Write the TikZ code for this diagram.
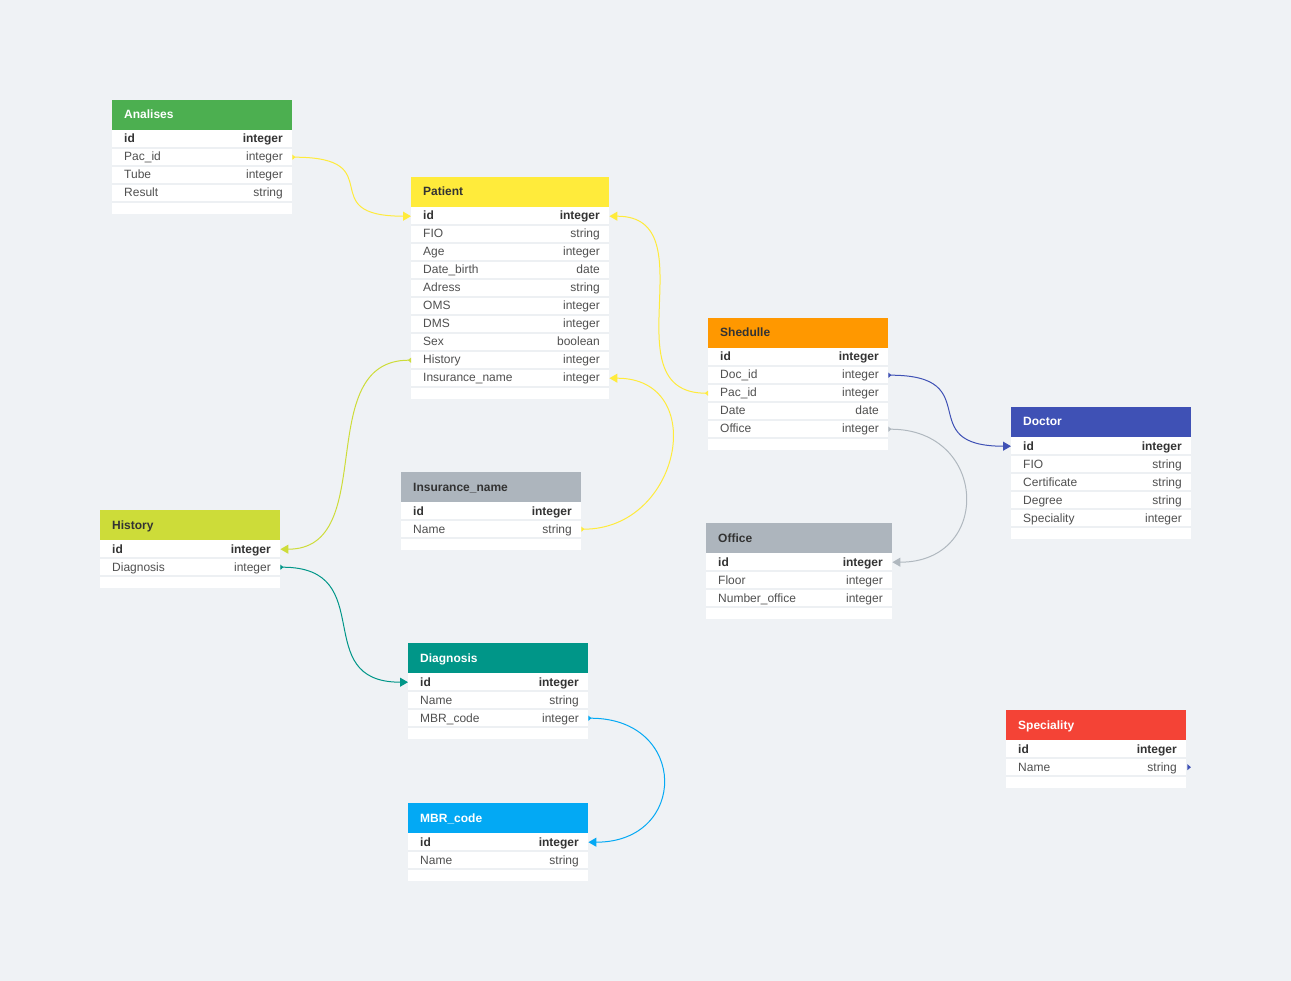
\documentclass[tikz,border=0pt]{standalone}
\usepackage{fontspec}
\setmainfont{Liberation Sans}
\usetikzlibrary{arrows.meta}
\definecolor{bgc}{HTML}{EFF2F5}
\definecolor{sepc}{HTML}{EDF0F3}
\definecolor{cgreen}{HTML}{4CAF50}
\definecolor{cyellow}{HTML}{FFEB3B}
\definecolor{corange}{HTML}{FF9800}
\definecolor{cindigo}{HTML}{3F51B5}
\definecolor{clime}{HTML}{CDDC39}
\definecolor{cgray}{HTML}{ADB5BD}
\definecolor{cteal}{HTML}{009688}
\definecolor{cblue}{HTML}{03A9F4}
\definecolor{cred}{HTML}{F44336}
\definecolor{clinegray}{HTML}{B0B8BF}
\definecolor{darktxt}{HTML}{333333}
\definecolor{fieldtxt}{HTML}{505050}
\tikzset{
  headbox/.style={inner sep=0pt, minimum height=30pt, draw=none},
  titletext/.style={inner sep=0pt, font=\fontsize{12pt}{14pt}\selectfont\bfseries},
  rowbox/.style={inner sep=0pt, minimum height=18pt, draw=none},
  fieldtext/.style={inner sep=0pt, text=fieldtxt, font=\fontsize{12pt}{14pt}\selectfont},
  conn/.style={line width=1pt, {Triangle[reversed,length=3pt,width=5pt]}-{Triangle[length=8pt,width=9pt]}},
}
% #1 name, #2 x, #3 y, #4 width, #5 head colour, #6 title colour, #7 title, #8 rows, #9 number of rows
\newcommand{\dbtable}[9]{%
  \fill[white] (#2,#3+30) rectangle ++(#4,18*#9+12);
  \foreach \k in {1,...,#9} {\draw[sepc, line width=1.5pt] (#2,#3+30+18*\k) -- ++(#4,0);}
  \node[headbox, fill=#5, minimum width=#4, anchor=north west] (#1) at (#2,#3) {};
  \node[titletext, text=#6, anchor=base west] (#1-title) at (#2+12,#3+19) {#7};
  \foreach \n/\t [count=\i] in {#8} {
    \node[rowbox, minimum width=#4, anchor=north west] (#1-\i) at (#2,#3+12+18*\i) {};
    \node[fieldtext, anchor=base west] (#1-\i-n) at (#2+12,#3+25+18*\i) {\ifnum\i=1\bfseries\color{darktxt}\fi\n};
    \node[fieldtext, anchor=base east] (#1-\i-t) at (#2+#4-9,#3+25+18*\i) {\ifnum\i=1\bfseries\color{darktxt}\fi\t};
  }
}
\begin{document}
\begin{tikzpicture}[x=1pt,y=-1pt]
\useasboundingbox (0,0) rectangle (1291,981);
\fill[bgc] (0,0) rectangle (1291,981);

\dbtable{Analises}{112}{100}{180}{cgreen}{white}{Analises}{id/integer,Pac\_id/integer,Tube/integer,Result/string}{4}
\dbtable{Patient}{411}{177}{198}{cyellow}{darktxt}{Patient}{id/integer,FIO/string,Age/integer,Date\_birth/date,Adress/string,OMS/integer,DMS/integer,Sex/boolean,History/integer,Insurance\_name/integer}{10}
\dbtable{Shedulle}{708}{318}{180}{corange}{darktxt}{Shedulle}{id/integer,Doc\_id/integer,Pac\_id/integer,Date/date,Office/integer}{5}
\dbtable{Doctor}{1011}{407}{180}{cindigo}{white}{Doctor}{id/integer,FIO/string,Certificate/string,Degree/string,Speciality/integer}{5}
\dbtable{History}{100}{510}{180}{clime}{darktxt}{History}{id/integer,Diagnosis/integer}{2}
\dbtable{Insurance}{401}{472}{180}{cgray}{darktxt}{Insurance\_name}{id/integer,Name/string}{2}
\dbtable{Office}{706}{523}{186}{cgray}{darktxt}{Office}{id/integer,Floor/integer,Number\_office/integer}{3}
\dbtable{Diagnosis}{408}{643}{180}{cteal}{white}{Diagnosis}{id/integer,Name/string,MBR\_code/integer}{3}
\dbtable{MBR}{408}{803}{180}{cblue}{white}{MBR\_code}{id/integer,Name/string}{2}
\dbtable{Speciality}{1006}{710}{180}{cred}{white}{Speciality}{id/integer,Name/string}{2}

% connectors
\draw[conn, cyellow] (Analises-2.east) .. controls +(100,0) and +(-100,0) .. (Patient-1.west);
\draw[conn, cyellow] (Shedulle-3.west) .. controls +(-100,0) and +(100,0) .. (Patient-1.east);
\draw[conn, clime] (Patient-9.west) .. controls +(-100,0) and +(100,0) .. (History-1.east);
\draw[conn, cyellow] (Insurance-2.east) .. controls +(100,0) and +(100,0) .. (Patient-10.east);
\draw[conn, cindigo] (Shedulle-2.east) .. controls +(100,0) and +(-100,0) .. (Doctor-1.west);
\draw[conn, clinegray] (Shedulle-5.east) .. controls +(100,0) and +(100,0) .. (Office-1.east);
\draw[conn, cteal] (History-2.east) .. controls +(100,0) and +(-100,0) .. (Diagnosis-1.west);
\draw[conn, cblue] (Diagnosis-3.east) .. controls +(100,0) and +(100,0) .. (MBR-1.east);
\fill[cindigo] (Speciality-2.east) ++(1,-3) -- ++(0,6) -- ++(3.5,-3) -- cycle;
\end{tikzpicture}
\end{document}
